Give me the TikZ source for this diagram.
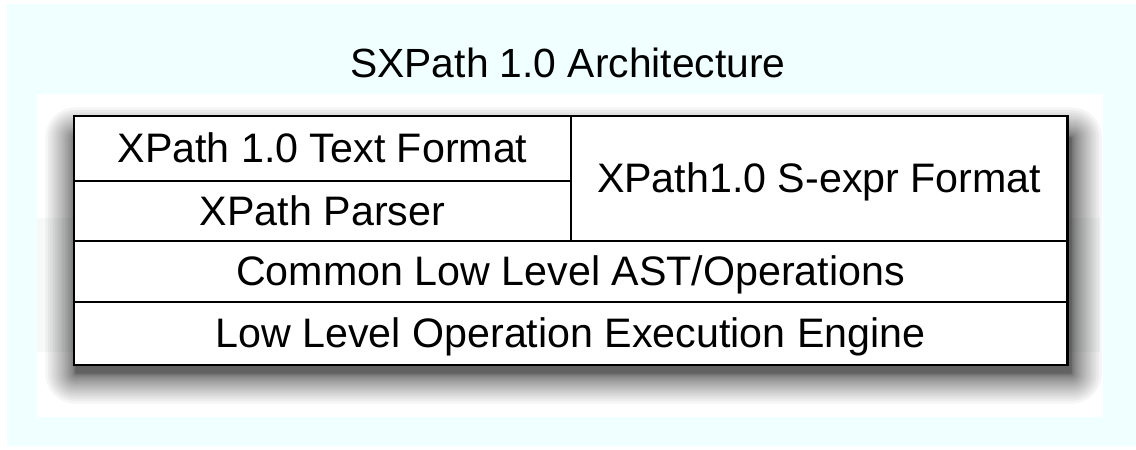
\documentclass[tikz,border=0pt]{standalone}
\usepackage{fontspec}
\setmainfont{Liberation Sans}
\usetikzlibrary{positioning, fit, backgrounds}
\definecolor{fundo}{RGB}{240, 255, 255}
\definecolor{faixa}{RGB}{247, 248, 248}
\tikzset{
  celula/.style={
    draw, line width=2pt, fill=white, inner sep=0pt, outer sep=0pt,
    align=center, text height=26pt, text depth=6pt,
    font=\fontsize{29.3}{34}\selectfont
  },
  sombra/.style={fill=black, opacity=0.04},
  titulo/.style={font=\fontsize{29}{34}\selectfont, anchor=base},
}
\begin{document}
\begin{tikzpicture}[x=0.025cm, y=-0.025cm]
\useasboundingbox (0,0) rectangle (1136,449);

\node[titulo] (titulo) at (568,77) {SXPath 1.0 Architecture};

\node[celula, minimum width=12.425cm, minimum height=1.625cm] (texto) at (322.5,148.5)
{XPath 1.0 Text Format};

\node[celula, minimum width=12.425cm, minimum height=1.5cm, below=0pt of texto] (parser)
{XPath Parser};

\node[celula, minimum width=12.4cm, minimum height=3.125cm, anchor=north west] (sexpr) at (texto.north east)
{XPath1.0 S-expr Format};

\node[celula, minimum width=24.825cm, minimum height=1.525cm, anchor=north west] (ast) at (parser.south west)
{Common Low Level AST/Operations};

\node[celula, minimum width=24.825cm, minimum height=1.575cm, below=0pt of ast] (motor)
{Low Level Operation Execution Engine};

\begin{scope}[on background layer]
  \fill[fundo] (7,4) rectangle (1136,446);
  \fill[white] (37,94) rectangle (1103,417);
  \fill[faixa] (37,218) rectangle (1100,352);
  \node[inner sep=0pt, fit=(texto)(sexpr)(motor)] (quadro) {};
  % blurred shadow below the table
  \foreach \i in {1,...,22} {
    \pgfmathsetmacro{\d}{\i*\i/16}
    \fill[sombra, rounded corners=\d*0.7pt]
      ([shift={(-\d+2,-\d+22)}]quadro.north west) rectangle ([shift={(\d+4,\d+8)}]quadro.south east);
  }
\end{scope}

\end{tikzpicture}
\end{document}
